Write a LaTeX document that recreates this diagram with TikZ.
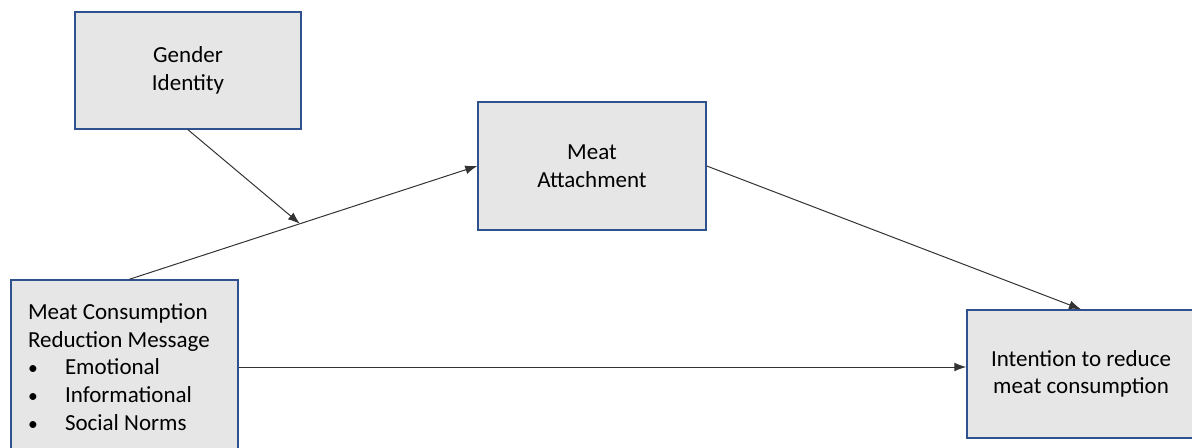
\documentclass[tikz,border=0pt]{standalone}
\usepackage{fontspec}
\setmainfont{Carlito}
\usetikzlibrary{arrows.meta}
\definecolor{boxfill}{RGB}{231,230,230}
\definecolor{boxline}{RGB}{47,82,143}
\newcommand{\msgitem}[1]{\makebox[18.5pt][l]{\scalebox{0.85}{\textbullet}}#1}
\begin{document}
\begin{tikzpicture}[x=0.5pt, y=-0.5pt,
    box/.style={rectangle, draw=boxline, line width=0.75pt, fill=boxfill, align=center,
        font=\fontsize{11.5}{13.85}\selectfont},
    link/.style={draw=black!80, line width=0.5pt, -{Latex[length=6pt, width=4.4pt]}}]
    \useasboundingbox (0,0) rectangle (1192,448);
    % the four boxes
    \node[box, minimum width=113pt, minimum height=58.5pt] (gender) at (188,70.5) {Gender\\Identity};
    \node[box, minimum width=114pt, minimum height=64pt] (attach) at (592,166) {Meat\\Attachment};
    \node[box, minimum width=113.5pt, minimum height=87pt, text width=96.5pt, inner xsep=8.5pt, align=flush left] (message) at (124.5,367)
        {Meat Consumption\\Reduction Message\\
         \msgitem{Emotional}\\
         \msgitem{Informational}\\
         \msgitem{Social Norms}};
    \node[box, minimum width=114pt, minimum height=64pt] (intent) at (1081,374) {Intention to reduce\\meat consumption};
    % paths
    \draw[link] ([xshift=2.5pt]message.north) -- coordinate[pos=0.49] (moderate) (attach.west);
    \draw[link] (gender.south) -- (moderate);
    \draw[link] (attach.east) -- (intent.north);
    \draw[link] (message.east) -- (message.east -| intent.west);
\end{tikzpicture}
\end{document}
